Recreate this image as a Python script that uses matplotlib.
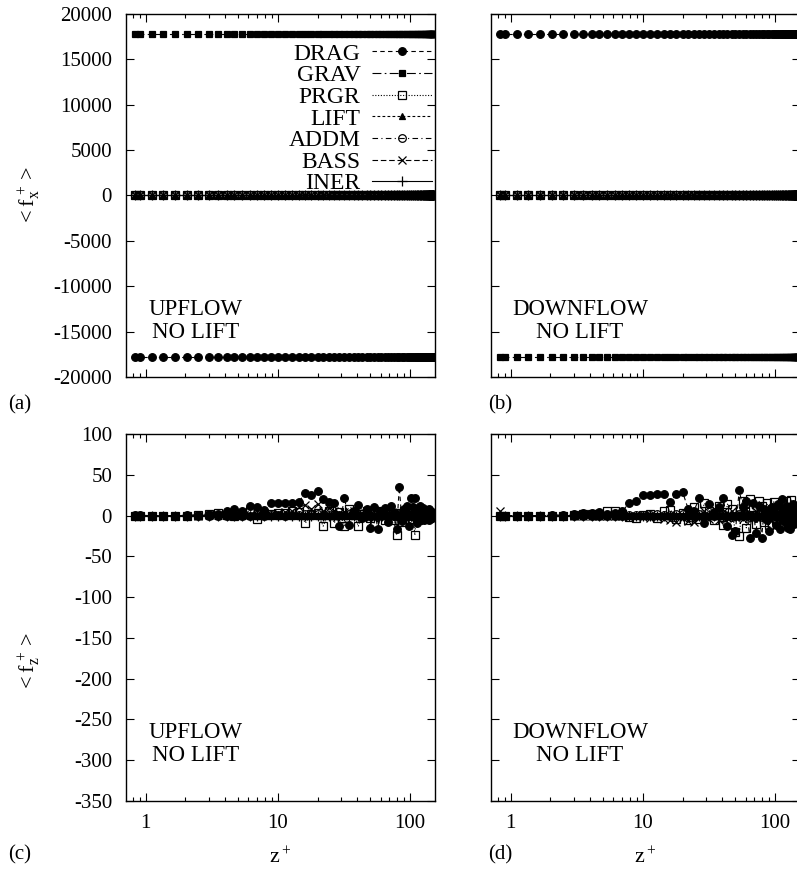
import matplotlib
matplotlib.use("Agg")
import matplotlib.pyplot as plt
import numpy as np

plt.rcParams['font.family'] = ['Liberation Serif', 'DejaVu Serif']
plt.rcParams['mathtext.fontset'] = 'custom'
plt.rcParams['mathtext.rm'] = 'Liberation Serif'
plt.rcParams['mathtext.it'] = 'Liberation Serif'
plt.rcParams['font.size'] = 15
plt.rcParams['axes.unicode_minus'] = False

# ---------------- data ----------------
z = [0.83, 0.90, 1.11, 1.35, 1.66, 2.04, 2.5, 3.0, 3.5, 4.1,
     4.7, 5.4, 6.2, 7.0, 7.9, 8.9, 10.0, 11.4, 12.9, 14.5,
     16.2, 18.0, 20.0, 22.1, 24.4, 26.8, 29.3, 32.0, 34.8, 37.7,
     40.7, 43.8, 47.0, 50.3, 53.7, 57.2, 60.8, 64.4, 68.1, 71.8,
     75.6, 79.4, 83.2, 87.0, 90.8, 94.6, 98.3, 102.0, 105.6, 109.1,
     112.5, 115.8, 119.0, 122.0, 124.9, 127.6, 130.2, 132.6, 134.8, 136.8,
     138.7, 140.4, 141.9, 143.3, 144.5, 145.6, 146.5, 147.3, 148.0, 148.6,
     149.1, 149.5, 149.8]
n = len(z)

series_names = ['DRAG', 'GRAV', 'PRGR', 'LIFT', 'ADDM', 'BASS', 'INER']

# streamwise (x) force balance: constant levels
grav_x_up = 17800.0
drag_x_up = -17800.0
grav_x_down = -17800.0
drag_x_down = 17800.0
other_x = 0.0

# wall-normal (z) components, upflow
drag_z_up = [0.5, 0.3, 0, 0, 0, 0.5, 1, 2, 2, 6,
             8, 5, 12, 11, 7, 15, 16, 15, 15, 17,
             28, 25, 30, 20, 17, 15, -13, 22, -11, 6,
             13, -3, 8, -15, 11, -17, 5, 9, -8, 12,
             3, -17, 35, -7, 8, 12, -13, 21, 10, 22,
             -9, 5, 12, -3, 9, -6, 4, 7, -4, 3,
             8, -5, 2, 4, -2, 3, -3, 2, 4, -1,
             2, -2, 1]
prgr_z_up = [0, 0, 0, 0, 0, 0, 1, 2, 3, 1,
             -1, 2, 6, -4, 1, 2, 3, 3, 5, 4,
             -9, 2, 3, -13, 6, -9, 4, -13, 8, 3,
             -13, 2, 5, -3, -9, 6, 4, -5, 7, 2,
             -6, -24, 3, -8, 5, 8, -4, 6, 3, -24,
             4, -6, 5, 2, -4, 6, -3, 3, 5, -2,
             4, -3, 2, 3, -2, 1, 2, -1, 2, -1,
             1, 0, 1]
bass_z_up = [0, 0, 0, 0, 0, 0, 0, 1, 1, 1,
             1, 2, 1, 2, 3, 2, 3, 4, 6, 10,
             13, 8, 14, 5, 9, 6, 3, 4, 2, 5,
             3, -2, 4, 2, -3, 3, 1, -2, 2, 3,
             -1, 2, 4, -2, 3, 2, -1, 3, 2, -2,
             2, 1, -1, 2, 1, -1, 2, 1, -1, 1,
             2, -1, 1, 1, -1, 1, 0, 1, 0, 1,
             0, 0, 0]
addm_z_up = [0, 0, 0, 0, 0, 0, 0, 0, 0, 0,
             0, 0, 0, 1, 0, 1, 1, 0, 1, 1,
             2, 1, 2, 1, 1, 2, 1, 1, 2, 1,
             1, 0, 1, -1, 1, -1, 1, 1, -1, 1,
             0, -1, 2, -1, 1, 1, -1, 1, 1, 2,
             -1, 1, 1, 0, 1, -1, 0, 1, 0, 0,
             1, 0, 0, 0, 0, 0, 0, 0, 0, 0,
             0, 0, 0]
zero_z = [0.0] * n

# wall-normal (z) components, downflow
drag_z_down = [0, 0, 0, 0, 0, 0.5, 1, 2, 3, 3,
               4, 2, 3, 5, 16, 18, 25, 25, 27, 27,
               17, 26, 29, 8, 6, 21, -9, 14, 4, 10,
               22, -13, -24, -19, 31, 10, 18, -27, 15, -22,
               12, -27, 8, -5, -19, 10, 6, -12, 14, -17,
               20, 8, -8, 12, -15, 5, -17, 9, -6, 14,
               -10, 6, -4, 8, -8, 4, -5, 7, -3, 5,
               -6, 3, -2]
prgr_z_down = [0, 0, 0, 0, 0, 0, 0, 1, 2, 2,
               2, 5, 5, 2, -2, -3, 1, 2, -3, 5,
               7, -4, 3, -5, 10, -4, 15, 6, -5, 12,
               -12, 14, 8, -20, -25, 18, -15, 20, 10, -10,
               18, 12, -8, 15, -12, 8, 17, -5, 10, -10,
               14, 6, -6, 18, 5, -8, 10, 19, -4, 8,
               12, -6, 5, -3, 9, 4, -2, 6, 3, -1,
               4, 2, 1]
bass_z_down = [5, 0, 0, 0, 0, 0, 0, 0, 0, 0,
               -1, 0, -1, -1, -2, -1, -2, -3, -2, -4,
               -6, -8, -3, -7, -8, -3, 5, -4, 3, -5,
               4, -3, 6, -2, 3, -4, 8, 2, -3, 5,
               -2, 4, 3, -3, 7, 2, -2, 5, 1, -3,
               4, 2, -2, 3, 1, -2, 3, 2, -1, 2,
               1, -1, 1, 2, -1, 1, 0, 1, -1, 1,
               0, 0, 0]
addm_z_down = [0, 0, 0, 0, 0, 0, 0, 0, 0, 0,
               0, 0, 0, 0, 1, 1, 1, 1, 2, 1,
               1, 2, 2, 1, 0, 2, -1, 1, 0, 1,
               2, -1, -2, -1, 2, 1, 1, -2, 1, -2,
               1, -2, 1, 0, -1, 1, 0, -1, 1, -1,
               1, 1, -1, 1, -1, 0, -1, 1, 0, 1,
               -1, 0, 0, 1, -1, 0, 0, 1, 0, 0,
               0, 0, 0]

# ---------------- styles ----------------
styles = {
    'DRAG': dict(ls=(0, (4, 3)), marker='o', mfc='black', ms=5.5),
    'GRAV': dict(ls=(0, (8, 3, 1.5, 3)), marker='s', mfc='black', ms=5.0),
    'PRGR': dict(ls=(0, (1, 1.5)), marker='s', mfc='none', ms=6),
    'LIFT': dict(ls=(0, (2.5, 2)), marker='^', mfc='black', ms=5),
    'ADDM': dict(ls=(0, (5, 3, 1, 3)), marker='o', mfc='none', ms=5.5),
    'BASS': dict(ls=(0, (5, 2.5)), marker='x', mfc='none', ms=5.5),
    'INER': dict(ls='-', marker='+', mfc='none', ms=6.5),
}

W, H = 797, 871
fig = plt.figure(figsize=(W / 100, H / 100), dpi=100)


def axpos(left, top, right, bottom):
    return [left / W, 1 - bottom / H, (right - left) / W, (bottom - top) / H]


ax_a = fig.add_axes(axpos(126, 14, 435, 377))
ax_b = fig.add_axes(axpos(491, 14, 800, 377))
ax_c = fig.add_axes(axpos(126, 434, 435, 801))
ax_d = fig.add_axes(axpos(491, 434, 800, 801))

top_data = {
    'a': {'DRAG': [drag_x_up] * n, 'GRAV': [grav_x_up] * n, 'PRGR': [other_x] * n,
          'LIFT': [other_x] * n, 'ADDM': [other_x] * n, 'BASS': [other_x] * n,
          'INER': [other_x] * n},
    'b': {'DRAG': [drag_x_down] * n, 'GRAV': [grav_x_down] * n, 'PRGR': [other_x] * n,
          'LIFT': [other_x] * n, 'ADDM': [other_x] * n, 'BASS': [other_x] * n,
          'INER': [other_x] * n},
}
bot_data = {
    'c': {'DRAG': drag_z_up, 'GRAV': zero_z, 'PRGR': prgr_z_up, 'LIFT': zero_z,
          'ADDM': addm_z_up, 'BASS': bass_z_up, 'INER': zero_z},
    'd': {'DRAG': drag_z_down, 'GRAV': zero_z, 'PRGR': prgr_z_down, 'LIFT': zero_z,
          'ADDM': addm_z_down, 'BASS': bass_z_down, 'INER': zero_z},
}


def draw(ax, data):
    for name in series_names:
        st = styles[name]
        ax.plot(z, data[name], color='black', lw=0.8, ls=st['ls'],
                marker=st['marker'], mfc=st['mfc'], mec='black',
                ms=st['ms'], mew=0.9, label=name)


for ax, key in [(ax_a, 'a'), (ax_b, 'b')]:
    draw(ax, top_data[key])
    ax.set_ylim(-20000, 20000)
    ax.set_yticks(np.arange(-20000, 20001, 5000))
for ax, key in [(ax_c, 'c'), (ax_d, 'd')]:
    draw(ax, bot_data[key])
    ax.set_ylim(-350, 100)
    ax.set_yticks(np.arange(-350, 101, 50))

for ax in [ax_a, ax_b, ax_c, ax_d]:
    ax.set_xscale('log')
    ax.set_xlim(0.71, 155)
    ax.set_xticks([1, 10, 100])
    ax.set_xticklabels(['1', '10', '100'])
    ax.tick_params(which='both', direction='in', top=True, right=True)
    ax.tick_params(which='major', length=6, width=0.8, pad=9)
    ax.tick_params(which='minor', length=3, width=0.8)
    ax.tick_params(axis='y', pad=10)
    for sp in ax.spines.values():
        sp.set_linewidth(1.0)

for ax in [ax_a, ax_b]:
    ax.set_xticklabels([])
for ax in [ax_b, ax_d]:
    ax.set_yticklabels([])

ax_a.set_ylabel(r'$\mathrm{<f_x^{\,+}>}$', fontsize=16)
ax_c.set_ylabel(r'$\mathrm{<f_z^{\,+}>}$', fontsize=16)
ax_a.yaxis.set_label_coords(-0.27, 0.5)
ax_c.yaxis.set_label_coords(-0.27, 0.38)

ax_c.set_xlabel(r'$\mathrm{z^+}$', labelpad=11, fontsize=16)
ax_d.set_xlabel(r'$\mathrm{z^+}$', labelpad=11, fontsize=16)

ax_a.legend(loc='upper right', bbox_to_anchor=(0.99, 0.92), frameon=False,
            markerfirst=False, handlelength=2.55, handletextpad=0.47,
            labelspacing=0.005, borderaxespad=0.0, borderpad=0.0, fontsize=17)

for ax, x0 in [(ax_a, 0.226), (ax_c, 0.226), (ax_b, 0.288), (ax_d, 0.288)]:
    label = 'UPFLOW' if ax in (ax_a, ax_c) else 'DOWNFLOW'
    ax.text(x0, 0.155, label + '\nNO LIFT', transform=ax.transAxes,
            ha='center', va='center', linespacing=1.1, fontsize=16.5)

for txt, x, y in [('(a)', 8, 405), ('(b)', 488, 405), ('(c)', 8, 855), ('(d)', 488, 855)]:
    fig.text(x / W, 1 - y / H, txt, ha='left', va='center', fontsize=15)

fig.savefig('out.png', dpi=100)
